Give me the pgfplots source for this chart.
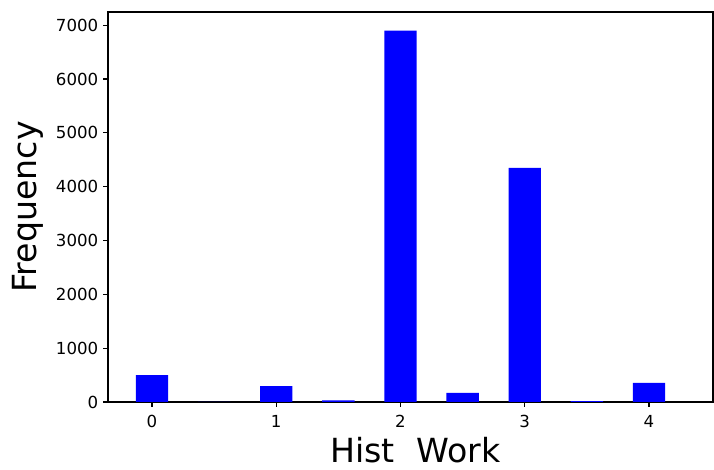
\documentclass[border=0pt]{standalone}
\usepackage{fontspec}
\setmainfont{DejaVu Sans}
\usepackage{pgfplots}
\pgfplotsset{compat=1.18}
\begin{document}
\begin{tikzpicture}
\begin{axis}[
 scale only axis, width=435.6bp, height=280.8bp,
 xmin=-0.354, xmax=4.515, ymin=0, ymax=7245,
 xtick={0,1,2,3,4}, ytick={0,1000,...,7000},
 xtick pos=bottom, ytick pos=left, tick align=outside,
 major tick length=3.5bp,
 axis line style={line width=0.8bp},
 every tick/.style={line width=0.8bp, black},
 tick label style={font=\fontsize{12}{14}\selectfont},
 x tick label style={yshift=-2.5bp},
 /pgf/number format/assume math mode=true,
 scaled y ticks=false, y tick label style={/pgf/number format/1000 sep={}},
 xlabel={Hist\ \ Work}, ylabel={Frequency},
 every axis x label/.style={at={(axis description cs:0.508,-0.1564)}, anchor=base, font=\fontsize{24}{28}\selectfont},
 every axis y label/.style={at={(axis description cs:-0.1174,0.5)}, rotate=90, anchor=base, font=\fontsize{24}{28}\selectfont},
]
\addplot[ybar, bar width=0.26, fill={rgb,255:red,0;green,0;blue,255}, draw=none] coordinates {
(0,500) (0.5,0) (1,295) (1.5,32) (2,6900) (2.5,169) (3,4350) (3.5,16) (4,356)
};
\coordinate (sw) at (rel axis cs:0,0);
\coordinate (ne) at (rel axis cs:1,1);
\end{axis}
\pgfresetboundingbox
\path[use as bounding box] ([xshift=-77.76bp,yshift=-48.96bp]sw) rectangle ([xshift=0.72bp,yshift=8.64bp]ne);
\end{tikzpicture}
\end{document}
